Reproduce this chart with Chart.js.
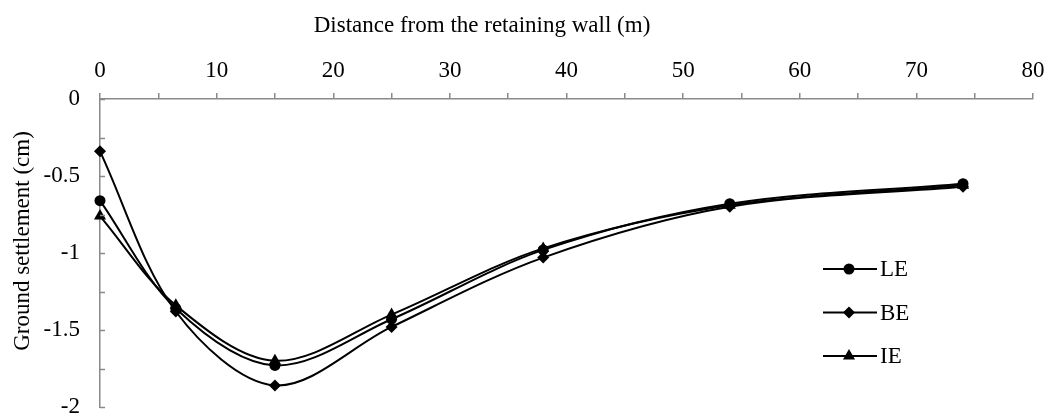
<!DOCTYPE html>
<html lang="en">
  <head>
    <meta charset="UTF-8" />
    <title>Ground settlement</title>
    <script src="https://cdn.jsdelivr.net/npm/chart.js@4.4.0/dist/chart.umd.min.js"></script>
    <style>
      html, body { margin: 0; padding: 0; background: #fff; }
      #wrap { width: 1051px; height: 414px; }
    </style>
  </head>
  <body>
    <div id="wrap"><canvas id="chart" width="1051" height="414"></canvas></div>
    <script>
      // distance from wall (m) and settlement (cm) for each method
      const distances = [0, 6.5, 15, 25, 38, 54, 74]
      const seriesNames = ['LE', 'BE', 'IE']
      const leValues = [-0.66, -1.36, -1.73, -1.43, -0.98, -0.68, -0.55]
      const beValues = [-0.34, -1.38, -1.86, -1.48, -1.03, -0.70, -0.57]
      const ieValues = [-0.76, -1.34, -1.70, -1.40, -0.97, -0.69, -0.56]
      const xTickLabels = ['0', '10', '20', '30', '40', '50', '60', '70', '80']
      const yTickLabels = ['0', '-0.5', '-1', '-1.5', '-2']

      const FONT = "'Liberation Serif', 'Times New Roman', serif"
      const AXIS_GREY = '#8a8a8a'
      const markers = ['circle', 'rectRot', 'triangle']
      const markerSizes = [5.5, 6, 7]

      function toPoints(ys) {
        return distances.map((x, i) => ({ x: x, y: ys[i] }))
      }

      const datasets = [leValues, beValues, ieValues].map((vals, i) => ({
        label: seriesNames[i],
        data: toPoints(vals),
        borderColor: '#000',
        backgroundColor: '#000',
        borderWidth: 2,
        pointStyle: markers[i],
        pointRadius: markerSizes[i],
        pointBorderWidth: 0,
        tension: 0.33, // close to Excel's smoothed line
        clip: false,
      }))

      // inward ticks on y axis, axis titles and a line+marker legend
      const decorations = {
        id: 'decorations',
        afterDraw(chart) {
          const ctx = chart.ctx
          const y = chart.scales.y
          const area = chart.chartArea
          ctx.save()
          ctx.strokeStyle = AXIS_GREY
          ctx.lineWidth = 1.5
          y.ticks.forEach((t) => {
            const py = Math.round(y.getPixelForValue(t.value)) + 0.5
            ctx.beginPath()
            ctx.moveTo(area.left, py)
            ctx.lineTo(area.left + 5, py)
            ctx.stroke()
          })

          ctx.fillStyle = '#000'
          ctx.font = '23px ' + FONT
          ctx.textAlign = 'center'
          ctx.textBaseline = 'alphabetic'
          ctx.fillText('Distance from the retaining wall (m)', 482, 32)

          ctx.save()
          ctx.translate(29, 241)
          ctx.rotate(-Math.PI / 2)
          ctx.fillText('Ground settlement (cm)', 0, 0)
          ctx.restore()

          // legend
          chart.data.datasets.forEach((ds, i) => {
            const ly = 269 + i * 43.5
            ctx.strokeStyle = '#000'
            ctx.lineWidth = 2
            ctx.beginPath()
            ctx.moveTo(823, ly)
            ctx.lineTo(877, ly)
            ctx.stroke()
            ctx.fillStyle = '#000'
            Chart.helpers.drawPoint(ctx, {
              pointStyle: ds.pointStyle,
              radius: ds.pointRadius,
              rotation: 0,
              borderWidth: 0,
            }, 849, ly)
            ctx.fillStyle = '#000'
            ctx.textAlign = 'left'
            ctx.textBaseline = 'middle'
            ctx.fillText(ds.label, 880, ly + 1)
          })
          ctx.restore()
        },
      }

      const ctx = document.getElementById('chart').getContext('2d')
      const myChart = new Chart(ctx, {
        type: 'line',
        data: { datasets: datasets },
        options: {
          responsive: false,
          animation: false,
          layout: { padding: { left: 0, right: 18, top: 0, bottom: 7 } },
          plugins: { legend: { display: false }, tooltip: { enabled: false } },
          scales: {
            x: {
              type: 'linear',
              position: 'top',
              min: 0,
              max: 80,
              afterFit: (s) => {
                s.height = 99
                s.paddingLeft = 0
                s.paddingRight = 0
              },
              ticks: {
                stepSize: 5,
                autoSkip: false,
                maxRotation: 0,
                padding: 8,
                color: '#000',
                font: { family: FONT, size: 23 },
                callback: (v) => (v % 10 === 0 ? xTickLabels[v / 10] : ''),
              },
              grid: { drawOnChartArea: false, tickLength: 6, color: AXIS_GREY, lineWidth: 1.5 },
              border: { color: AXIS_GREY, width: 1.5 },
            },
            y: {
              type: 'linear',
              min: -2,
              max: 0,
              afterFit: (s) => {
                s.width = 100
                s.paddingTop = 0
                s.paddingBottom = 0
              },
              ticks: {
                stepSize: 0.25,
                autoSkip: false,
                padding: 20,
                color: '#000',
                font: { family: FONT, size: 23 },
                callback: (v) => {
                  const k = Math.round(-v / 0.5 * 100) / 100
                  return Number.isInteger(k) ? yTickLabels[k] : ''
                },
              },
              grid: { drawOnChartArea: false, drawTicks: false },
              border: { color: AXIS_GREY, width: 1.5 },
            },
          },
        },
        plugins: [decorations],
      })
    </script>
  </body>
</html>
